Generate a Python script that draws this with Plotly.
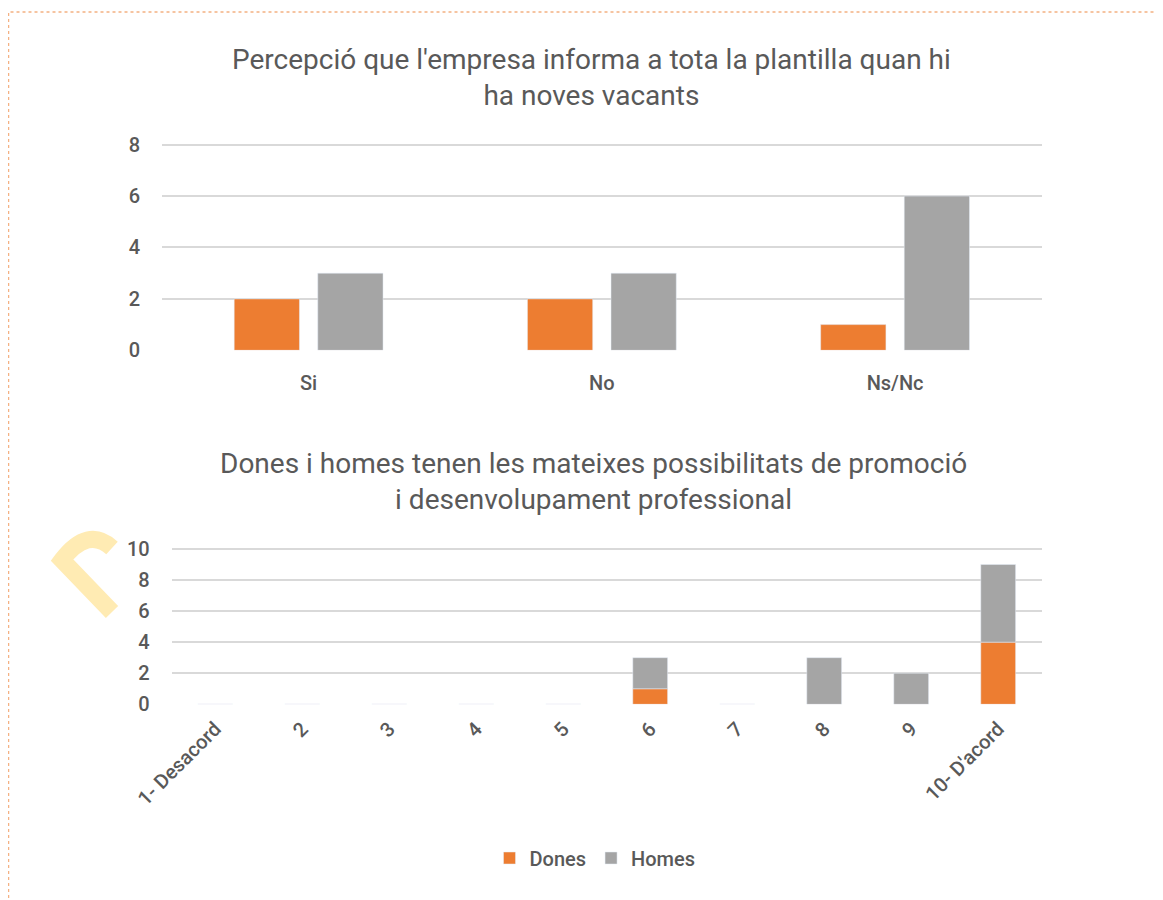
import plotly.graph_objects as go

# chart 1: company informs staff about new vacancies
vacancy_answers = ["Si", "No", "Ns/Nc"]
vacancy_dones = [2, 2, 1]
vacancy_homes = [3, 3, 6]

# chart 2: equal promotion opportunities (scale 1-10)
scale_labels = ["1- Desacord", "2", "3", "4", "5", "6", "7", "8", "9", "10- D'acord"]
promo_dones = [0, 0, 0, 0, 0, 1, 0, 0, 0, 4]
promo_homes = [0, 0, 0, 0, 0, 2, 0, 3, 2, 5]

ORANGE = "#ED7D31"
GRAY = "#A5A5A5"
TEXT = "#595959"
GRID = "#D9D9D9"
FONT = "Roboto"

W, H = 1163, 900
PAGE_OFF = 8  # body margin of the html page


def fx(px):
    return (px - PAGE_OFF) / W


def fy(py):
    return 1 - (py - PAGE_OFF) / H


fig = go.Figure()

fig.add_trace(go.Bar(
    x=vacancy_answers, y=vacancy_dones, name="Dones",
    marker_color=ORANGE, xaxis="x", yaxis="y", showlegend=True,
))
fig.add_trace(go.Bar(
    x=vacancy_answers, y=vacancy_homes, name="Homes",
    marker_color=GRAY, xaxis="x", yaxis="y", showlegend=True,
))

# stacked bars in the lower chart
fig.add_trace(go.Bar(
    x=scale_labels, y=promo_dones, name="Dones",
    marker_color=ORANGE, xaxis="x2", yaxis="y2", showlegend=False,
    width=0.4, offset=-0.2,
))
fig.add_trace(go.Bar(
    x=scale_labels, y=promo_homes, base=promo_dones, name="Homes",
    marker_color=GRAY, xaxis="x2", yaxis="y2", showlegend=False,
    width=0.4, offset=-0.2,
))

tick_font = dict(family=FONT, size=20, color=TEXT, weight=500)
axis_common = dict(showline=False, zeroline=False, ticks="", automargin=False,
                   tickfont=tick_font)
yaxis_common = dict(showgrid=True, gridcolor=GRID, gridwidth=1.5, dtick=2,
                    ticklabelstandoff=21, **axis_common)

title_font = dict(family=FONT, size=28, color=TEXT)

fig.update_layout(
    width=W, height=H,
    margin=dict(l=0, r=0, t=0, b=0, pad=0),
    paper_bgcolor="white", plot_bgcolor="white",
    barmode="group", bargap=0.43, bargroupgap=0.219,
    font=dict(family=FONT, color=TEXT),
    xaxis=dict(domain=[fx(162), fx(1041.7)], anchor="y", showgrid=False,
               ticklabelstandoff=19, **axis_common),
    yaxis=dict(domain=[fy(350.3), fy(142.1)], anchor="x", range=[0, 8.1],
               **yaxis_common),
    xaxis2=dict(domain=[fx(171.7), fx(1041.7)], anchor="y2", showgrid=False,
                tickangle=-45, ticklabelstandoff=8, **axis_common),
    yaxis2=dict(domain=[fy(704.3), fy(547.4)], anchor="x2", range=[0, 10.1],
                **yaxis_common),
    legend=dict(orientation="h", x=fx(595), xanchor="center", y=fy(858),
                yanchor="middle", font=dict(family=FONT, size=20, color=TEXT, weight=500),
                itemwidth=30, traceorder="normal"),
    annotations=[
        dict(text="Percepció que l'empresa informa a tota la plantilla quan hi<br>ha noves vacants",
             x=fx(591.5), y=fy(77), xref="paper", yref="paper",
             xanchor="center", yanchor="middle",
             showarrow=False, font=title_font, align="center"),
        dict(text="Dones i homes tenen les mateixes possibilitats de promoció<br>i desenvolupament professional",
             x=fx(593), y=fy(481), xref="paper", yref="paper",
             xanchor="center", yanchor="middle",
             showarrow=False, font=title_font, align="center"),
    ],
    shapes=[
        # watermark fragment on the left margin
        dict(type="path", xref="paper", yref="paper", layer="below",
             path="M %f,%f Q %f,%f %f,%f L %f,%f" % (
                 fx(112), fy(548), fx(88), fy(526), fx(62), fy(560),
                 fx(112), fy(612)),
             line=dict(color="#FFEBB3", width=17)),
        # dotted frame
        dict(type="rect", xref="paper", yref="paper",
             x0=fx(8.5), x1=1, y0=0, y1=fy(12),
             line=dict(color="#F4B183", width=1.5, dash="dot")),
    ],
)

fig.write_html("out.html")
